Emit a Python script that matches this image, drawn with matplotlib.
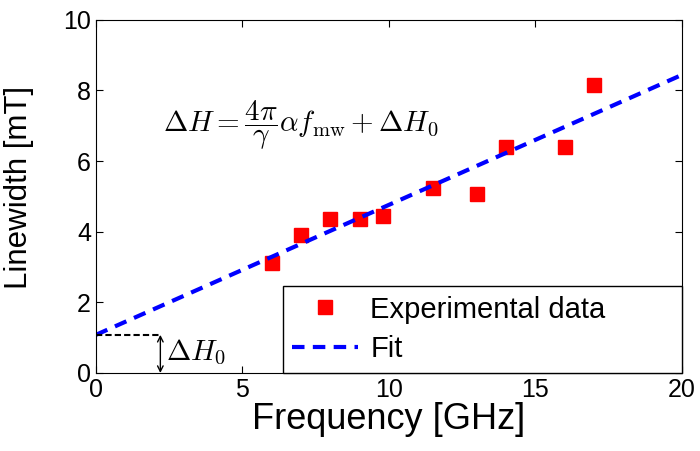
import matplotlib.pyplot as plt

plt.rcParams['font.family'] = ['Liberation Sans', 'DejaVu Sans']
plt.rcParams['mathtext.fontset'] = 'cm'

# measured linewidth vs frequency
freq = [6, 7, 8, 9, 9.8, 11.5, 13, 14, 16, 17]
linewidth = [3.12, 3.91, 4.36, 4.36, 4.45, 5.24, 5.07, 6.40, 6.40, 8.16]

# linear fit end points
fit_x = [0, 20]
fit_y = [1.08, 8.44]

dh0 = 1.08
dh0_x = 2.2

fig = plt.figure(figsize=(7, 4.51), dpi=100)
ax = fig.add_axes([0.137, 0.173, 0.837, 0.783])

ax.plot(freq, linewidth, 's', color='red', markersize=10, label='Experimental data')
ax.plot(fit_x, fit_y, '--', color='blue', linewidth=3, dashes=(3, 2), label='Fit')

# Delta H0 marker
ax.plot([0, dh0_x], [dh0, dh0], '--', color='black', linewidth=1.5, dashes=(3, 1.5))
ax.annotate('', xy=(dh0_x, 0), xytext=(dh0_x, dh0),
            arrowprops=dict(arrowstyle='<->', color='black', lw=1, shrinkA=0, shrinkB=0))
ax.text(dh0_x + 0.2, 0.58, r'$\Delta H_0$', fontsize=21, va='center')

ax.text(2.3, 7.0, r'$\Delta H = \dfrac{4\pi}{\gamma}\alpha f_{\mathrm{mw}} + \Delta H_0$',
        fontsize=21, va='center')

ax.set_xlim(0, 20)
ax.set_ylim(0, 10)
ax.set_xticks([0, 5, 10, 15, 20])
ax.set_yticks([0, 2, 4, 6, 8, 10])
ax.tick_params(direction='in', top=True, right=True, labelsize=18, length=5)
ax.set_xlabel('Frequency [GHz]', fontsize=26, labelpad=0)
ax.set_ylabel('Linewidth [mT]', fontsize=22.5)
ax.yaxis.set_label_coords(-0.105, 0.525)

leg = ax.legend(loc='lower left', bbox_to_anchor=(0.319, 0, 0.681, 0.232), mode='expand',
                fontsize=21, fancybox=False, framealpha=1, edgecolor='black',
                borderaxespad=0, handlelength=2.26, handletextpad=0.41, borderpad=0.33,
                labelspacing=0.4)
leg.get_frame().set_linewidth(1)

fig.savefig('out.png', dpi=100)
